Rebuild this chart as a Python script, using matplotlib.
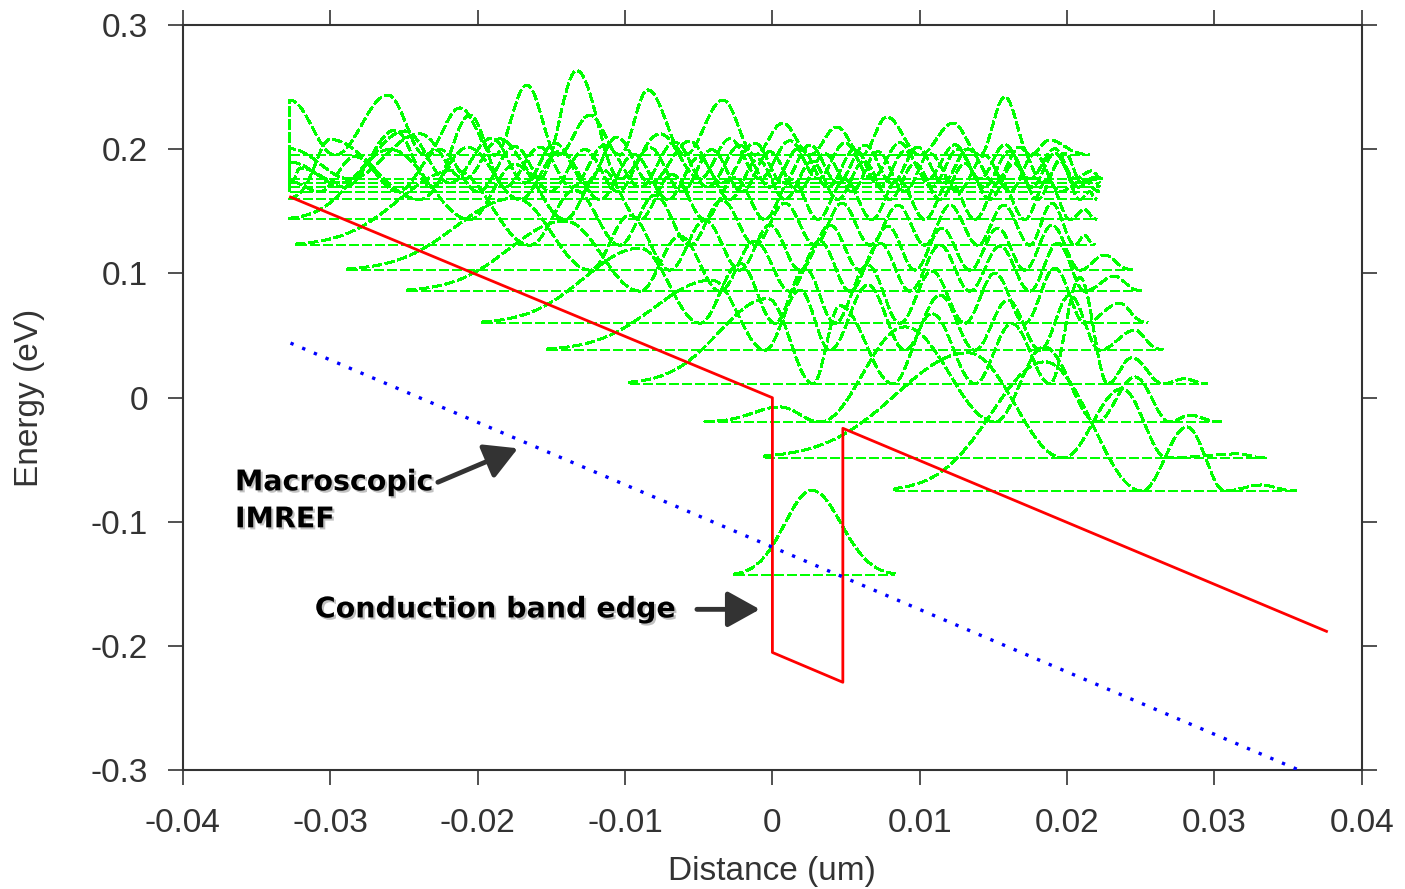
import numpy as np
import matplotlib.pyplot as plt
import matplotlib.patheffects as pe

plt.rcParams['font.family'] = ['Liberation Sans', 'DejaVu Sans']

# conduction band edge (red) and macroscopic IMREF (blue dotted)
band_x = [-0.0327, 0.0, 0.0, 0.00478, 0.00478, 0.0376]
band_y = [0.1615, 0.0, -0.205, -0.229, -0.0246, -0.188]
imref_x = [-0.0327, 0.0358]
imref_y = [0.044, -0.300]

# eigenstates: energy level, x-range, nodes, lobe peaks (x) and peak heights
state_E = [-0.143, -0.075, -0.0484, -0.0195, 0.0113, 0.0383, 0.06, 0.0858,
           0.1027, 0.1228, 0.1435, 0.1596, 0.1659, 0.1695, 0.1728, 0.1762, 0.1953]
state_start = [-0.00254, 0.00831, -0.00051, -0.00458, -0.00967, -0.01523, -0.01964, -0.02474,
               -0.02881, -0.03227, -0.03274, -0.03274, -0.03274, -0.03274, -0.03274, -0.03274, -0.03274]
state_end = [0.00831, 0.03559, 0.03355, 0.03050, 0.02955, 0.02650, 0.02548, 0.02507,
             0.02446, 0.02188, 0.02202, 0.02202, 0.02222, 0.02222, 0.02222, 0.02242, 0.02154]
state_nodes = [
    [],
    [0.02507, 0.03070],
    [0.01971, 0.02677],
    [0.00322, 0.01510, 0.02202, 0.02697],
    [0.00275, 0.00817, 0.01374, 0.01883, 0.02276, 0.02650],
    [-0.00051, 0.00390, 0.00899, 0.01374, 0.01815, 0.02222],
    [-0.00492, 0.00017, 0.00424, 0.00865, 0.01306, 0.01713, 0.02120],
    [-0.00899, -0.00356, 0.00119, 0.00526, 0.00933, 0.01340, 0.01747, 0.02120],
    [-0.01238, -0.00696, -0.00221, 0.00187, 0.00594, 0.00967, 0.01340, 0.01713, 0.02087],
    [-0.01645, -0.01035, -0.00560, -0.00119, 0.00288, 0.00662, 0.01035, 0.01394, 0.01747, 0.02053],
    [-0.02053, -0.01408, -0.00899, -0.00458, -0.00051, 0.00309, 0.00675, 0.01035, 0.01374, 0.01713, 0.02019],
    [-0.02392, -0.01713, -0.01170, -0.00709, -0.00288, 0.00085, 0.00444, 0.00797, 0.01137, 0.01476, 0.01801, 0.02087],
    [-0.03071, -0.02541, -0.01998, -0.01510, -0.01048, -0.00614, -0.00207, 0.00173, 0.00539, 0.00899, 0.01259, 0.01611, 0.01951],
    [-0.02901, -0.02310, -0.01815, -0.01361, -0.00899, -0.00438, -0.00017, 0.00377, 0.00729, 0.01082, 0.01435, 0.01761, 0.02073],
    [-0.02935, -0.02188, -0.01679, -0.01259, -0.00831, -0.00343, 0.00071, 0.00444, 0.00811, 0.01157, 0.01510, 0.01835, 0.02100],
    [-0.02867, -0.02087, -0.01578, -0.01035, -0.00492, -0.00085, 0.00309, 0.00675, 0.01055, 0.01408, 0.01747, 0.02053],
    [-0.02969, -0.02358, -0.01883, -0.01455, -0.01035, -0.00594, -0.00119, 0.00254, 0.00607, 0.01001, 0.01408, 0.01747],
]
state_peak_x = [
    [0.00268],
    [0.01849, 0.02813, 0.03321],
    [0.01327, 0.02372, 0.03159],
    [0.00051, 0.00899, 0.01845, 0.02460, 0.02833],
    [-0.00031, 0.00458, 0.01082, 0.01625, 0.02087, 0.02439, 0.02799],
    [-0.00411, 0.00187, 0.00648, 0.01137, 0.01598, 0.02019, 0.02460],
    [-0.00899, -0.00221, 0.00221, 0.00648, 0.01082, 0.01510, 0.01917, 0.02358],
    [-0.01408, -0.00628, -0.00119, 0.00322, 0.00729, 0.01137, 0.01544, 0.01937, 0.02324],
    [-0.01747, -0.00967, -0.00458, -0.00017, 0.00390, 0.00784, 0.01150, 0.01530, 0.01897, 0.02256],
    [-0.02154, -0.01340, -0.00797, -0.00343, 0.00085, 0.00472, 0.00852, 0.01204, 0.01571, 0.01897, 0.02120],
    [-0.02595, -0.01747, -0.01157, -0.00682, -0.00254, 0.00132, 0.00492, 0.00852, 0.01204, 0.01544, 0.01869, 0.02120],
    [-0.03003, -0.02066, -0.01442, -0.00940, -0.00499, -0.00098, 0.00268, 0.00621, 0.00967, 0.01306, 0.01639, 0.01951, 0.02154],
    [-0.03274, -0.02833, -0.02256, -0.01747, -0.01272, -0.00831, -0.00411, -0.00017, 0.00356, 0.00716, 0.01069, 0.01442, 0.01781, 0.02120],
    [-0.03274, -0.02561, -0.02053, -0.01578, -0.01137, -0.00662, -0.00221, 0.00187, 0.00560, 0.00899, 0.01259, 0.01611, 0.01917, 0.02188],
    [-0.03206, -0.02494, -0.01903, -0.01476, -0.01055, -0.00560, -0.00119, 0.00254, 0.00628, 0.00988, 0.01327, 0.01679, 0.01985, 0.02188],
    [-0.03274, -0.02392, -0.01849, -0.01327, -0.00763, -0.00288, 0.00119, 0.00492, 0.00865, 0.01238, 0.01578, 0.01917, 0.02168],
    [-0.03274, -0.02609, -0.02120, -0.01666, -0.01238, -0.00845, -0.00336, 0.00071, 0.00438, 0.00777, 0.01225, 0.01578, 0.01883],
]
state_peak_h = [
    [0.0685],
    [0.1039, 0.0515, 0.0048],
    [0.0846, 0.0556, 0.0032],
    [0.0121, 0.0765, 0.0604, 0.0362, 0.0056],
    [0.0685, 0.0628, 0.0564, 0.0483, 0.0854, 0.0209, 0.0040],
    [0.0564, 0.0483, 0.0524, 0.0443, 0.0403, 0.0443, 0.0161],
    [0.0604, 0.0483, 0.0443, 0.0467, 0.0419, 0.0403, 0.0443, 0.0161],
    [0.0564, 0.0443, 0.0403, 0.0403, 0.0387, 0.0370, 0.0362, 0.0387, 0.0121],
    [0.0580, 0.0443, 0.0403, 0.0362, 0.0362, 0.0354, 0.0338, 0.0338, 0.0362, 0.0121],
    [0.0604, 0.0443, 0.0403, 0.0362, 0.0338, 0.0338, 0.0322, 0.0322, 0.0322, 0.0338, 0.0081],
    [0.0564, 0.0443, 0.0403, 0.0362, 0.0338, 0.0322, 0.0322, 0.0322, 0.0306, 0.0306, 0.0322, 0.0081],
    [0.0483, 0.0419, 0.0387, 0.0362, 0.0338, 0.0322, 0.0306, 0.0306, 0.0290, 0.0290, 0.0290, 0.0306, 0.0064],
    [0.0081, 0.0282, 0.0338, 0.0362, 0.0338, 0.0354, 0.0338, 0.0322, 0.0306, 0.0322, 0.0306, 0.0290, 0.0306, 0.0097],
    [0.0201, 0.0459, 0.0580, 0.0322, 0.0338, 0.0362, 0.0338, 0.0322, 0.0306, 0.0290, 0.0306, 0.0290, 0.0274, 0.0064],
    [0.0121, 0.0419, 0.0362, 0.0322, 0.0370, 0.0338, 0.0322, 0.0306, 0.0306, 0.0290, 0.0274, 0.0290, 0.0242, 0.0048],
    [0.0242, 0.0362, 0.0322, 0.0870, 0.0362, 0.0322, 0.0306, 0.0290, 0.0290, 0.0274, 0.0274, 0.0242, 0.0064],
    [0.0443, 0.0483, 0.0379, 0.0564, 0.0322, 0.0524, 0.0443, 0.0258, 0.0226, 0.0306, 0.0258, 0.0467, 0.0121],
]

x_ticks = [-0.04, -0.03, -0.02, -0.01, 0, 0.01, 0.02, 0.03, 0.04]
x_ticklabels = ['-0.04', '-0.03', '-0.02', '-0.01', '0', '0.01', '0.02', '0.03', '0.04']
y_ticks = [-0.3, -0.2, -0.1, 0, 0.1, 0.2, 0.3]
y_ticklabels = ['-0.3', '-0.2', '-0.1', '0', '0.1', '0.2', '0.3']


def lobe_curve(x, start, end, nodes, px, ph):
    # |psi|^2 drawn lobe by lobe between nodes, decaying tails at both ends
    b = [start] + list(nodes) + [end]
    y = np.zeros_like(x)
    n = len(px)
    for i in range(n):
        lo, hi, p, h = b[i], b[i + 1], px[i], ph[i]
        m = (x >= lo) & (x <= p)
        if i == 0:
            w = max(p - lo, 1e-9) / 2.0
            y[m] = h * np.exp(-((p - x[m]) / w) ** 2)
        else:
            y[m] = h * np.sin(0.5 * np.pi * (x[m] - lo) / (p - lo)) ** 2
        m = (x >= p) & (x <= hi)
        if i == n - 1:
            w = max(hi - p, 1e-9) / 2.0
            y[m] = h * np.exp(-((x[m] - p) / w) ** 2)
        else:
            y[m] = h * np.sin(0.5 * np.pi * (hi - x[m]) / (hi - p)) ** 2
    return y


fig = plt.figure(figsize=(14.05, 8.89), dpi=100)
ax = fig.add_axes([0.1302, 0.1333, 0.8391, 0.8386])

green = '#00ff00'
for E, s, e, nd, px, ph in zip(state_E, state_start, state_end, state_nodes,
                               state_peak_x, state_peak_h):
    x = np.linspace(s, e, 800)
    y = E + lobe_curve(x, s, e, nd, px, ph)
    ax.plot([s, e], [E, E], color=green, lw=1.4, ls=(0, (5, 2)), antialiased=False, zorder=2)
    ax.plot(np.r_[s, x], np.r_[E, y], color=green, lw=1.4, ls=(0, (5, 2)),
            antialiased=False, zorder=2)

ax.plot(band_x, band_y, color='#ff0000', lw=2.0, zorder=3)
ax.plot(imref_x, imref_y, color='#0000ff', lw=2.4, ls=(0, (1, 2.8)), zorder=3)

ax.set_xlim(-0.04, 0.04)
ax.set_ylim(-0.3, 0.3)
ax.set_xticks(x_ticks)
ax.set_xticklabels(x_ticklabels)
ax.set_yticks(y_ticks)
ax.set_yticklabels(y_ticklabels)

for sp in ax.spines.values():
    sp.set_color('#333333')
    sp.set_linewidth(1.5)
ax.tick_params(direction='out', length=11, width=1.2, color='#333333',
               labelsize=24, labelcolor='#333333', top=True, right=True)
ax.tick_params(axis='x', pad=16)
ax.tick_params(axis='y', pad=14)
ax.set_xlabel('Distance (um)', fontsize=24, color='#333333', labelpad=12)
ax.set_ylabel('Energy (eV)', fontsize=24, color='#333333', labelpad=33)

shadow = [pe.withSimplePatchShadow(offset=(1.5, -1.5), shadow_rgbFace='#999999', alpha=0.6)]
txt_kw = dict(fontsize=20.5, fontweight='bold', family='DejaVu Sans', color='black',
              ha='left', va='baseline', path_effects=shadow, zorder=5)
ax.text(-0.03647, -0.0745, 'Macroscopic', **txt_kw)
ax.text(-0.03647, -0.1043, 'IMREF', **txt_kw)
ax.text(-0.03105, -0.1768, 'Conduction band edge', **txt_kw)

arrow_kw = dict(arrowstyle='-|>,head_length=0.9,head_width=0.5', color='#333333',
                lw=3.5, shrinkA=0, shrinkB=0, mutation_scale=22)
ax.annotate('', xy=(-0.01727, -0.0407), xytext=(-0.0227, -0.068), arrowprops=arrow_kw, zorder=5)
ax.annotate('', xy=(-0.00085, -0.1703), xytext=(-0.00512, -0.1703), arrowprops=arrow_kw, zorder=5)

fig.savefig('out.png', dpi=100)
